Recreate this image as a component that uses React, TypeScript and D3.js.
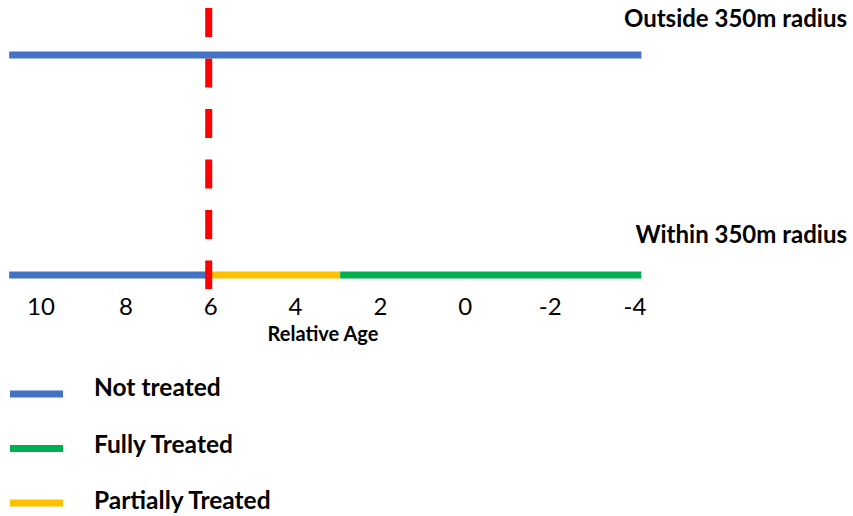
import React from 'react';
import * as d3 from 'd3';

// Relative age axis (reversed: older on the left)
const tickValues = [10, 8, 6, 4, 2, 0, -2, -4];
const axisStart = 10.75;
const axisEnd = -4.15;
const cutoffAge = 6;

const groups = ['Outside 350m radius', 'Within 350m radius'];

const outsideSegments = [
  { status: 'Not treated', from: axisStart, to: axisEnd },
];
const withinSegments = [
  { status: 'Not treated', from: axisStart, to: 6 },
  { status: 'Partially Treated', from: 6, to: 2.95 },
  { status: 'Fully Treated', from: 2.95, to: axisEnd },
];

const legendItems = ['Not treated', 'Fully Treated', 'Partially Treated'];

const colorFor: Record<string, string> = {
  'Not treated': '#4472C4',
  'Fully Treated': '#00B050',
  'Partially Treated': '#FFC000',
};

const width = 853;
const height = 516;
const font = 'Lato, "Open Sans", sans-serif';

const App: React.FC = () => {
  const x = d3.scaleLinear().domain([10, -4]).range([41, 635]);
  const y = d3.scalePoint<string>().domain(groups).range([55, 275]);
  const legendY = d3.scalePoint<string>().domain(legendItems).range([394, 503]);
  const legendTextY = d3.scalePoint<string>().domain(legendItems).range([396, 509]);

  const yOut = y(groups[0]) as number;
  const yIn = y(groups[1]) as number;

  const seg = (s: { status: string; from: number; to: number }, yy: number, key: string) => (
    <line
      key={key}
      x1={x(s.from)}
      x2={x(s.to)}
      y1={yy}
      y2={yy}
      stroke={colorFor[s.status]}
      strokeWidth={7}
    />
  );

  return (
    <svg
      width={width}
      height={height}
      style={{ position: 'absolute', left: 0, top: 0, background: '#fff' }}
      fontFamily={font}
    >
      {/* within row first so the cutoff line sits over it */}
      {withinSegments.map((s, i) => seg(s, yIn, 'in' + i))}

      <line
        x1={x(cutoffAge) - 2}
        x2={x(cutoffAge) - 2}
        y1={yOut - 47}
        y2={yIn + 14}
        stroke="#FF0000"
        strokeWidth={7}
        strokeDasharray="29 21.5"
      />

      {outsideSegments.map((s, i) => seg(s, yOut, 'out' + i))}

      {/* group titles */}
      <text x={847} y={yOut - 28} textAnchor="end" fontWeight="bold" fontSize={24} fill="#000">
        {groups[0]}
      </text>
      <text x={847} y={yIn - 32} textAnchor="end" fontWeight="bold" fontSize={24} fill="#000">
        {groups[1]}
      </text>

      {/* tick labels */}
      {tickValues.map(t => (
        <text key={t} x={x(t)} y={yIn + 40} textAnchor="middle" fontSize={24} fill="#000">
          {String(t)}
        </text>
      ))}
      <text x={323} y={yIn + 66} textAnchor="middle" fontWeight="bold" fontSize={20} fill="#000">
        Relative Age
      </text>

      {/* legend */}
      {legendItems.map(item => {
        const ly = legendY(item) as number;
        return (
          <g key={item}>
            <line x1={10} x2={63} y1={ly} y2={ly} stroke={colorFor[item]} strokeWidth={7} />
            <text x={94} y={legendTextY(item) as number} fontWeight="bold" fontSize={24.5} fill="#000">
              {item}
            </text>
          </g>
        );
      })}
    </svg>
  );
};

export default App;
